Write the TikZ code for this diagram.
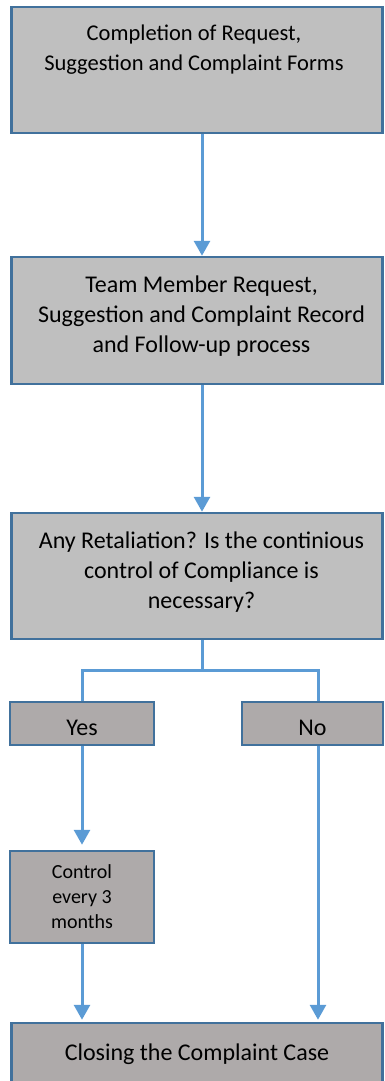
\documentclass[tikz,border=0pt]{standalone}
\usepackage{fontspec}
\setmainfont{Carlito}
\usepackage{tikz}
\usetikzlibrary{positioning,arrows.meta,calc}
\definecolor{flowBlue}{HTML}{5B9BD5}
\definecolor{flowEdge}{HTML}{41719C}
\definecolor{flowGray}{HTML}{BFBFBF}
\definecolor{flowDark}{HTML}{AEAAAA}
\tikzset{
  stepbox/.style={draw=flowEdge,fill=flowGray,line width=2.5pt,
    minimum width=371pt,minimum height=126pt,inner sep=0pt},
  answerbox/.style={draw=flowEdge,fill=flowDark,line width=2.5pt,
    minimum width=144pt,minimum height=43pt,inner sep=0pt,
    font=\fontsize{24}{30}\selectfont},
  steptext/.style={inner sep=0pt,align=center,font=\fontsize{24}{30}\selectfont},
  arrow/.style={-{Triangle[length=15pt,width=16pt]},line width=3pt,draw=flowBlue},
  link/.style={line width=3pt,draw=flowBlue}
}

\begin{document}
\begin{tikzpicture}[x=1pt,y=1pt]
  \useasboundingbox (0,0) rectangle (384,-1081);
  % main steps
  \node[stepbox] (forms) at (197,-70) {};
  \node[steptext, font=\fontsize{22.5}{30}\selectfont, below=19pt of forms.north, xshift=-3pt] (formstxt)
    {Completion of Request,\\Suggestion and Complaint Forms};
  \node[stepbox, minimum height=127pt, below=121.5pt of forms] (record) {};
  \node[steptext, below=20pt of record.north, xshift=4.5pt] (recordtxt)
    {Team Member Request,\\Suggestion and Complaint Record\\and Follow-up process};
  \node[stepbox, below=126.5pt of record] (check) {};
  \node[steptext, below=20pt of check.north, xshift=4.5pt] (checktxt)
    {Any Retaliation? Is the continious\\control of Compliance is\\necessary?};
  % answers
  \node[answerbox, text height=24pt, text depth=0pt] (yes) at (82,-723.5) {Yes};
  \node[answerbox, text height=24pt, text depth=0pt, minimum width=141pt] (no) at (312.5,-723.5) {No};
  \node[answerbox, minimum height=92pt, align=center,
    font=\fontsize{20}{25}\selectfont] (control) at (82,-897) {Control\\every 3\\months};
  \node[answerbox, minimum width=371pt, minimum height=62pt] (closing) at (197,-1054)
    {Closing the Complaint Case};
  % connectors
  \draw[arrow] ([xshift=5pt]forms.south) -- ([xshift=5pt]record.north);
  \draw[arrow] ([xshift=5pt]record.south) -- ([xshift=5pt]check.north);
  \draw[link] ([xshift=5pt]check.south) -- ++(0,-30) coordinate (split) -| (yes.north);
  \draw[link] (split) -| ([xshift=5.5pt]no.north);
  \draw[arrow, shorten >=5pt] (yes.south) -- (control.north);
  \draw[arrow, shorten >=2pt] (control.south) -- (control.south |- closing.north);
  \draw[arrow, shorten >=2pt] ([xshift=5.5pt]no.south) -- ([xshift=5.5pt]no.south |- closing.north);
\end{tikzpicture}
\end{document}
